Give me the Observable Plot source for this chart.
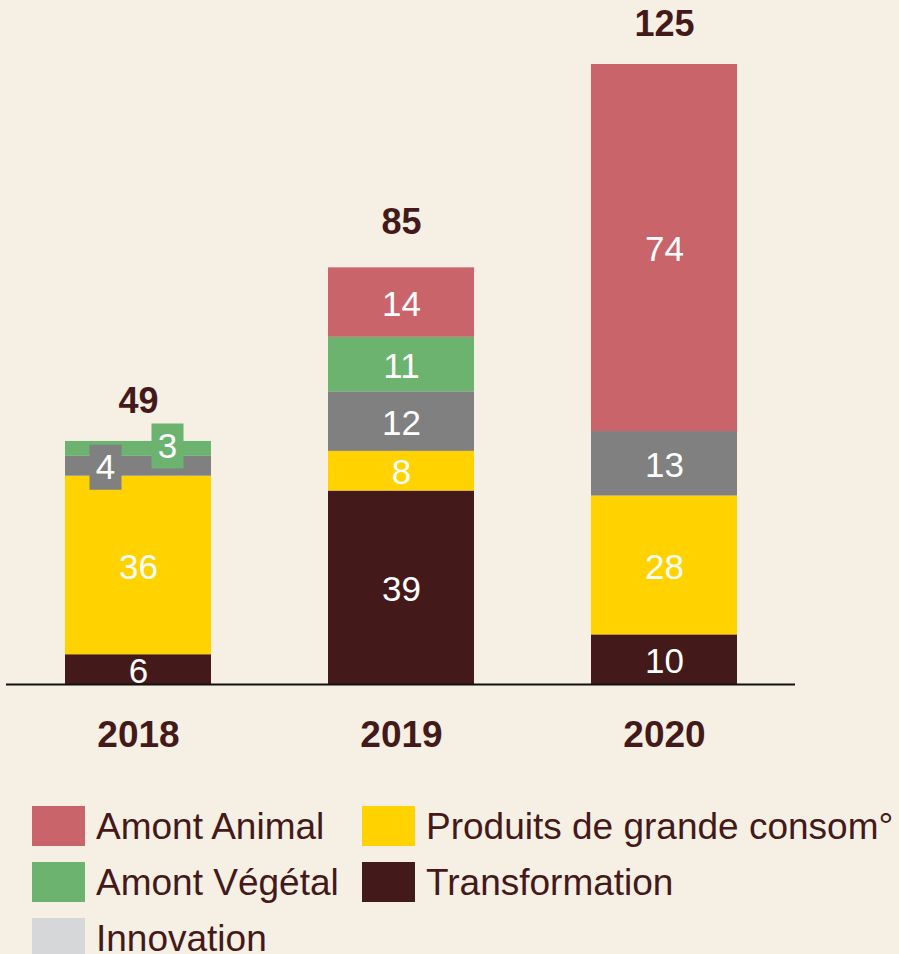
<!DOCTYPE html>
<html>
<head>
<meta charset="utf-8">
<script src="https://cdn.jsdelivr.net/npm/d3@7"></script>
<script src="https://cdn.jsdelivr.net/npm/@observablehq/plot@0.6"></script>
<style>
  html, body { margin: 0; padding: 0; background: #f5efe4; overflow: hidden; }
  body { width: 899px; height: 954px; font-family: "Liberation Sans", Arial, sans-serif; color: #44191a; }
  #chart svg { display: block; }
  #legend {
    display: grid;
    grid-auto-flow: column;
    grid-template-rows: repeat(3, 56px);
    grid-template-columns: 330px auto;
    margin: 32px 0 0 32px;
  }
  .item { display: flex; align-items: flex-start; font-size: 37px; line-height: 42px; white-space: nowrap; }
  .sw { width: 53px; height: 40px; margin-right: 11px; flex: none; }
</style>
</head>
<body>
<div id="chart"></div>
<div id="legend"></div>
<script>
const years = ["2018", "2019", "2020"];
const stackOrder = ["Transformation", "Produits de grande consom°", "Autres", "Amont Végétal", "Amont Animal"];
const transformation = [6, 39, 10];
const produits = [36, 8, 28];
const autres = [4, 12, 13];
const amontVegetal = [3, 11, 0];
const amontAnimal = [0, 14, 74];
const totals = [49, 85, 125];
const legendNames = ["Amont Animal", "Amont Végétal", "Innovation", "Produits de grande consom°", "Transformation"];
const colorDomain = ["Amont Animal", "Amont Végétal", "Innovation", "Produits de grande consom°", "Transformation", "Autres"];
const colorRange = ["#c9646b", "#6bb36f", "#d6d7d9", "#ffd200", "#44191a", "#808080"];

const seriesValues = {
  "Transformation": transformation,
  "Produits de grande consom°": produits,
  "Autres": autres,
  "Amont Végétal": amontVegetal,
  "Amont Animal": amontAnimal
};
const rows = [];
for (const s of stackOrder) {
  years.forEach((year, i) => rows.push({year, series: s, value: seriesValues[s][i]}));
}
const totalRows = years.map((year, i) => ({year, total: totals[i]}));

const textColor = "#44191a";
const rectSym = { draw(ctx) { ctx.rect(-16, -22.5, 32, 45); } };
const small = (d, s) => d.series === s && d.value > 0 && d.value < 5;

const base = {x: "year", y: "value", z: "series", order: stackOrder};

const plot = Plot.plot({
  width: 899,
  height: 774,
  marginTop: 64,
  marginBottom: 90,
  marginLeft: 6,
  marginRight: 104,
  style: {background: "transparent", fontFamily: "'Liberation Sans', Arial, sans-serif"},
  x: {axis: null, domain: years, paddingInner: 0.445, paddingOuter: 0.2225},
  y: {axis: null, domain: [0, 125]},
  r: {range: [0, 10]},
  color: {domain: colorDomain, range: colorRange},
  marks: [
    Plot.barY(rows, Plot.stackY({x: "year", y: "value", fill: "series", order: stackOrder})),
    Plot.text(rows, Plot.stackY({...base,
      text: d => (d.value >= 5 ? String(d.value) : null),
      fill: "white", fontSize: 35, dy: 2})),
    // call-out boxes for thin segments
    Plot.dot(rows, Plot.stackY({...base,
      r: d => (small(d, "Autres") ? 1 : 0), symbol: rectSym, fill: "#808080", dx: -33, dy: 1})),
    Plot.text(rows, Plot.stackY({...base,
      text: d => (small(d, "Autres") ? String(d.value) : null),
      fill: "white", fontSize: 35, dx: -33, dy: 2})),
    Plot.dot(rows, Plot.stackY({...base,
      r: d => (small(d, "Amont Végétal") ? 1 : 0), symbol: rectSym, fill: "#6bb36f", dx: 29, dy: -3})),
    Plot.text(rows, Plot.stackY({...base,
      text: d => (small(d, "Amont Végétal") ? String(d.value) : null),
      fill: "white", fontSize: 35, dx: 29, dy: -2})),
    Plot.ruleY([0], {stroke: "#111", strokeWidth: 2}),
    Plot.text(totalRows, {x: "year", y: "total", text: d => String(d.total), dy: -40,
      fontSize: 36, fontWeight: "bold", fill: textColor}),
    Plot.text(years, {x: d => d, text: d => d, frameAnchor: "bottom", dy: 62,
      fontSize: 37, fontWeight: "bold", fill: textColor})
  ]
});
document.getElementById("chart").appendChild(plot);

const legend = document.getElementById("legend");
const color = plot.scale("color");
for (const name of legendNames) {
  const item = document.createElement("div");
  item.className = "item";
  const sw = document.createElement("span");
  sw.className = "sw";
  sw.style.background = color.apply(name);
  const label = document.createElement("span");
  label.textContent = name;
  item.appendChild(sw);
  item.appendChild(label);
  legend.appendChild(item);
}
</script>
</body>
</html>
